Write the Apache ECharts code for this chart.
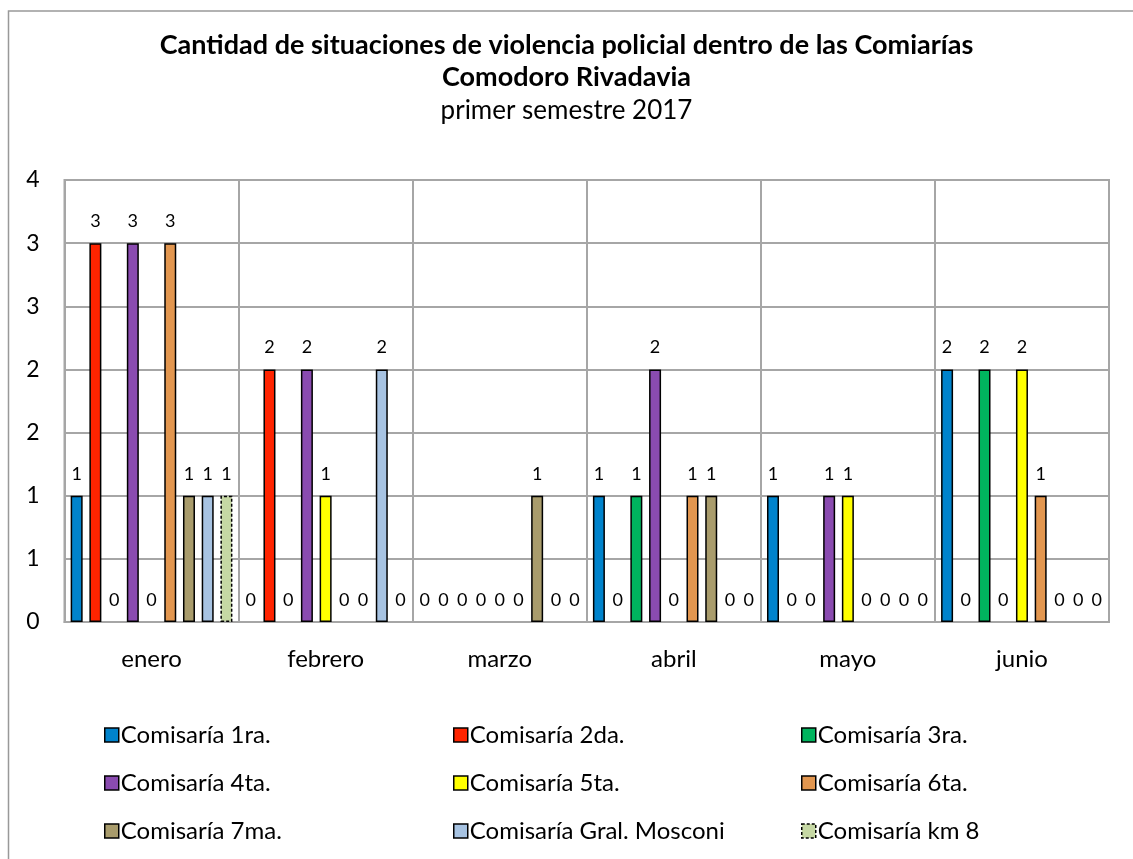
<!DOCTYPE html>
<html>
<head>
<meta charset="utf-8">
<script src="https://cdn.jsdelivr.net/npm/echarts@6/dist/echarts.min.js"></script>
<style>
  html, body { margin: 0; padding: 0; background: #fff; }
  #main { width: 1133px; height: 859px; }
</style>
</head>
<body>
<div id="main"></div>
<script>
const months = ['enero', 'febrero', 'marzo', 'abril', 'mayo', 'junio'];
const comisarias = ['Comisaría 1ra.', 'Comisaría 2da.', 'Comisaría 3ra.', 'Comisaría 4ta.', 'Comisaría 5ta.',
  'Comisaría 6ta.', 'Comisaría 7ma.', 'Comisaría Gral. Mosconi', 'Comisaría km 8'];
// valores por mes para cada comisaría
const c1ra = [1, 0, 0, 1, 1, 2];
const c2da = [3, 2, 0, 0, 0, 0];
const c3ra = [0, 0, 0, 1, 0, 2];
const c4ta = [3, 2, 0, 2, 1, 0];
const c5ta = [0, 1, 0, 0, 1, 2];
const c6ta = [3, 0, 0, 1, 0, 1];
const c7ma = [1, 0, 1, 1, 0, 0];
const cMosconi = [1, 2, 0, 0, 0, 0];
const cKm8 = [1, 0, 0, 0, 0, 0];
const seriesValues = [c1ra, c2da, c3ra, c4ta, c5ta, c6ta, c7ma, cMosconi, cKm8];
const colorList = ['#0083CC', '#FF2400', '#00B45E', '#8A4BB0', '#FFFF00', '#E2964F', '#A99C6C', '#A7C3E2', '#C6D8A4'];
const yTicks = [0, 0.5, 1, 1.5, 2, 2.5, 3, 3.5];

const font = 'Lato, "Open Sans", sans-serif';
const gridColor = '#a6a6a6';
const dashed = [3, 2];

const series = comisarias.map((name, i) => ({
  name: name,
  type: 'bar',
  // las barras en cero no llevan borde
  data: seriesValues[i].map(v => v === 0 ? { value: v, itemStyle: { borderWidth: 0 } } : v),
  barWidth: 12,
  barGap: '56%',
  itemStyle: {
    color: colorList[i],
    borderColor: '#000',
    borderWidth: 1.5,
    borderType: i === 8 ? dashed : 'solid'
  },
  label: {
    show: true,
    position: 'top',
    distance: 13,
    color: '#000',
    fontFamily: font,
    fontSize: 18
  }
}));

// leyenda en 3 columnas
const legendCols = [0, 1, 2].map(col => ({
  data: [col, col + 3, col + 6].map(k => ({
    name: comisarias[k],
    itemStyle: { borderColor: '#000', borderWidth: 1.5, borderType: k === 8 ? dashed : 'solid' }
  })),
  orient: 'vertical',
  left: [99, 448, 796][col],
  top: 718,
  itemWidth: 14,
  itemHeight: 14,
  itemGap: 24,
  icon: 'rect',
  textStyle: { color: '#000', fontFamily: font, fontSize: 24, padding: [0, 0, 0, -3] }
}));

const option = {
  animation: false,
  backgroundColor: '#fff',
  title: [{
    text: 'Cantidad de situaciones de violencia policial dentro de las Comiarías',
    left: 'center', top: 27,
    textStyle: { fontFamily: font, fontSize: 27, fontWeight: 'bold', color: '#000' }
  }, {
    text: 'Comodoro Rivadavia',
    left: 'center', top: 59,
    textStyle: { fontFamily: font, fontSize: 27, fontWeight: 'bold', color: '#000' }
  }, {
    text: 'primer semestre 2017',
    left: 'center', top: 93,
    textStyle: { fontFamily: font, fontSize: 26, fontWeight: 'normal', color: '#000' }
  }],
  graphic: [{
    type: 'rect',
    shape: { x: 8.5, y: 11, width: 1200, height: 900 },
    style: { fill: 'none', stroke: '#999', lineWidth: 1.5 },
    silent: true
  }],
  legend: legendCols,
  grid: {
    left: 64.5, right: 24, top: 180, bottom: 237,
    show: true, borderColor: gridColor, borderWidth: 2
  },
  xAxis: {
    type: 'category',
    data: months,
    axisLine: { show: true, lineStyle: { color: gridColor, width: 2 } },
    axisTick: { show: false },
    splitLine: { show: true, interval: 0, lineStyle: { color: gridColor, width: 2 } },
    axisLabel: { color: '#000', fontFamily: font, fontSize: 24, margin: 25 }
  },
  yAxis: {
    type: 'value',
    min: yTicks[0],
    max: yTicks[yTicks.length - 1],
    interval: 0.5,
    axisLine: { show: false },
    axisTick: { show: false },
    splitLine: { show: true, lineStyle: { color: gridColor, width: 2 } },
    axisLabel: {
      color: '#000', fontFamily: font, fontSize: 23, margin: 25,
      formatter: v => String(Math.round(v))
    }
  },
  series: series
};

const chart = echarts.init(document.getElementById('main'));
chart.setOption(option);
</script>
</body>
</html>
